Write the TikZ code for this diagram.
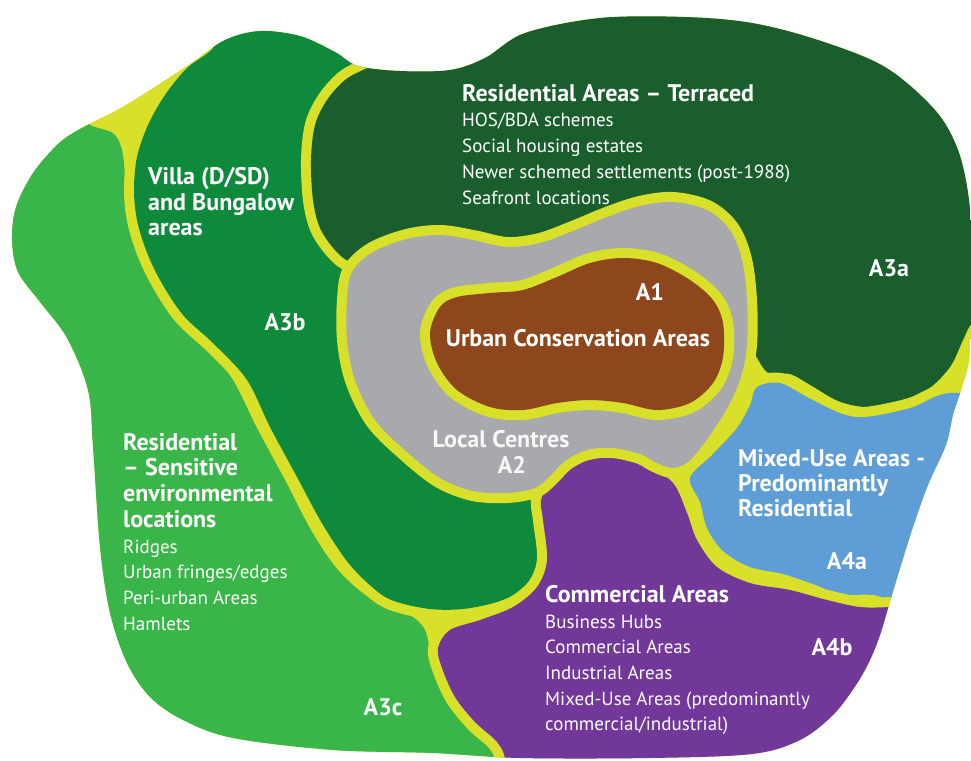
\documentclass[tikz,border=0pt]{standalone}
\usepackage{fontspec}
\setmainfont{PT Sans}
\definecolor{band}{HTML}{D8E02A}
\definecolor{greenC}{HTML}{3AB54A}
\definecolor{greenB}{HTML}{0F8A3C}
\definecolor{greenA}{HTML}{1B5E2D}
\definecolor{greyA}{HTML}{A7A9AC}
\definecolor{brownA}{HTML}{8E461C}
\definecolor{blueA}{HTML}{5E9DD6}
\definecolor{purpleA}{HTML}{71389A}
\def\bandwidth{20pt}
\newcommand\zonehead[1]{{\bfseries\fontsize{24}{25.7}\selectfont #1}}

\begin{document}
\begin{tikzpicture}[x=1pt, y=-1pt,
  zone/.style={fill=#1, preaction={draw=band, line width=\bandwidth, line join=round}},
  blob/.style={smooth cycle, tension=0.55},
  txt/.style={text=white, font=\fontsize{19}{25.7}\selectfont, align=left, inner sep=0pt, anchor=north west},
  tag/.style={text=white, font=\bfseries\fontsize{24}{26}\selectfont, inner sep=0pt}]
			%%%%% START %%%%%
			\useasboundingbox (0,0) rectangle (971,760);

			\begin{scope}
			\clip plot[blob] coordinates {(12,240) (16,207) (33,173) (58,144) (80,129) (117,110) (150,90) (190,64) (225,40) (260,31) (300,36) (335,52) (358,66) (400,71) (450,70) (485,58) (525,33) (600,18) (685,17) (752,23) (818,40) (885,67) (935,110) (958,150) (969,200) (972,260) (971,330) (969,362) (962,387) (953,415) (946,445) (928,485) (912,530) (898,575) (889,605) (880,635) (870,660) (856,685) (833,715) (800,740) (752,754) (650,758) (520,758) (433,753) (333,750) (233,738) (183,720) (150,697) (127,663) (110,613) (100,547) (93,447) (88,390) (67,338) (40,302) (18,272)};
			\fill[band] (-10,-10) rectangle (990,780);

			% A3c
			\path[zone=greenC] plot[blob] coordinates {(-30,150) (60,118) (95,127) (114,134) (122,150) (125,175) (128,210) (138,245) (155,280) (180,315) (208,348) (233,380) (258,430) (285,480) (311,530) (338,570) (370,598) (408,614) (425,630) (432,660) (445,695) (465,722) (490,745) (505,790) (200,800) (-30,700)};
			% A3b
			\path[zone=greenB] plot[blob] coordinates {(228,18) (300,10) (370,40) (360,100) (350,180) (350,260) (400,330) (470,400) (520,460) (540,500) (545,540) (540,570) (522,590) (497,602) (463,609) (430,609) (397,602) (378,592) (350,565) (323,525) (297,477) (270,427) (247,380) (215,345) (183,315) (160,280) (146,250) (137,220) (134,190) (137,157) (148,125) (165,95) (187,68) (213,48)};
			% A3a
			\path[zone=greenA] plot[blob] coordinates {(363,70) (345,80) (327,100) (315,125) (311,160) (313,200) (320,228) (335,250) (352,262) (380,255) (413,240) (447,232) (480,238) (520,260) (600,290) (700,300) (745,340) (767,372) (790,374) (812,386) (838,401) (865,407) (895,404) (927,390) (950,367) (963,340) (972,323) (990,310) (1000,100) (700,-10) (480,-10) (420,40) (385,60)};
			% A4a
			\path[zone=blueA] plot[blob] coordinates {(757,387) (780,383) (807,397) (840,413) (865,417) (910,408) (937,396) (957,393) (1000,400) (1000,600) (900,600) (873,595) (840,594) (813,584) (783,574) (750,567) (723,551) (707,528) (700,502) (690,478) (712,455) (737,428) (750,405)};
			% A4b
			\path[zone=purpleA] plot[blob] coordinates {(543,520) (541,500) (550,484) (563,472) (582,462) (613,457) (647,466) (673,483) (687,513) (697,540) (717,567) (750,583) (790,590) (827,600) (860,607) (892,607) (930,605) (930,790) (500,790) (505,760) (497,742) (475,722) (455,697) (442,668) (438,648) (450,630) (480,620) (513,607) (537,587) (547,560)};
			% A2
			\path[zone=greyA] plot[blob] coordinates {(347,300) (352,272) (373,252) (407,239) (440,235) (473,240) (507,247) (540,243) (573,231) (607,217) (640,206) (673,202) (707,210) (730,230) (742,260) (747,300) (747,345) (740,380) (725,412) (705,442) (688,462) (672,468) (655,462) (640,454) (613,448) (587,450) (565,461) (550,476) (535,488) (507,493) (473,491) (440,478) (407,452) (375,420) (355,380) (347,340)};
			% A1
			\path[zone=brownA] plot[blob] coordinates {(430,333) (440,307) (457,297) (490,293) (523,290) (557,277) (590,263) (623,258) (657,263) (690,280) (713,300) (723,323) (723,357) (713,383) (690,403) (657,410) (623,403) (590,400) (557,403) (523,410) (490,407) (457,390) (437,363)};
			\end{scope}

			% texts
			\node[txt] (terraced) at (462,84) {\zonehead{Residential Areas – Terraced}\\HOS/BDA schemes\\Social housing estates\\Newer schemed settlements (post-1988)\\Seafront locations};
			\node[txt, font=\bfseries\fontsize{24}{25.7}\selectfont] (villa) at (148,167) {Villa (D/SD)\\and Bungalow\\areas};
			\node[txt] (sensitive) at (123,433) {\zonehead{Residential}\\\zonehead{– Sensitive}\\\zonehead{environmental}\\\zonehead{locations}\\Ridges\\Urban fringes/edges\\Peri-urban Areas\\Hamlets};
			\node[txt, font=\bfseries\fontsize{24}{25.2}\selectfont] (mixed) at (738,449) {Mixed-Use Areas -\\Predominantly\\Residential};
			\node[txt] (commercial) at (545,585) {\zonehead{Commercial Areas}\\Business Hubs\\Commercial Areas\\Industrial Areas\\Mixed-Use Areas (predominantly\\commercial/industrial)};
			\node[tag] (urban) at (578,338) {Urban Conservation Areas};
			\node[tag, text=white!92!greyA] (local) at (501,439) {Local Centres};

			\node[tag] (a1) at (650,292) {A1};
			\node[tag, text=white!92!greyA] (a2) at (512,465) {A2};
			\node[tag] (a3a) at (889,268) {A3a};
			\node[tag] (a3b) at (285,322) {A3b};
			\node[tag] (a3c) at (383,707) {A3c};
			\node[tag] (a4a) at (847,561) {A4a};
			\node[tag] (a4b) at (832,647) {A4b};
			%%%%% END %%%%%
\end{tikzpicture}
\end{document}
